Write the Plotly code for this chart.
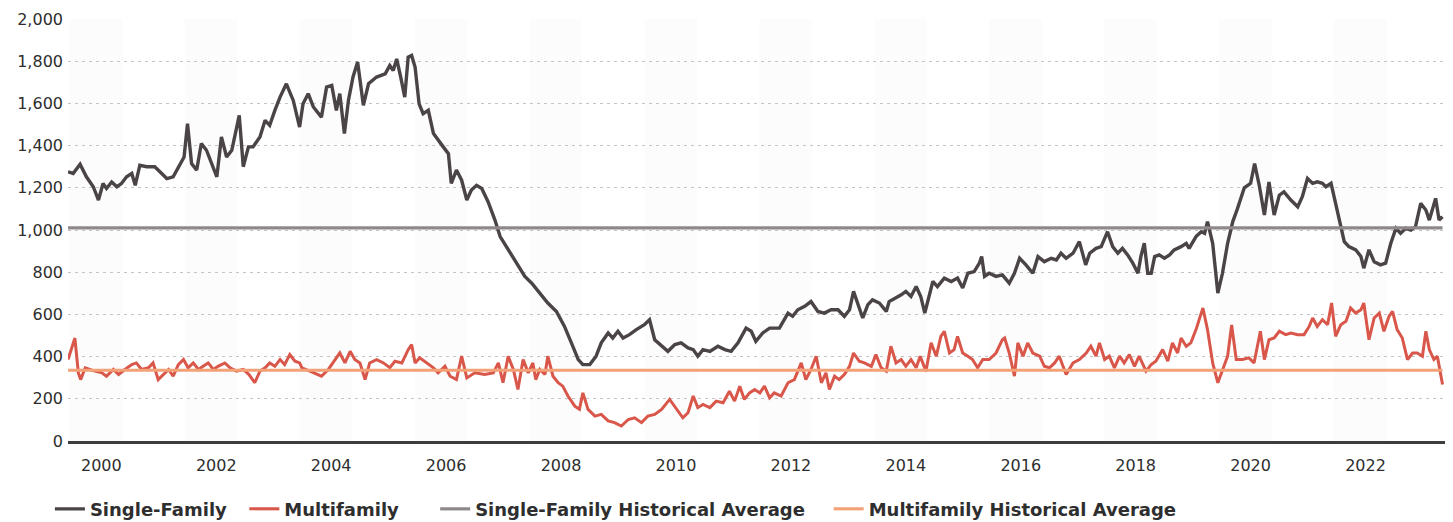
import plotly.graph_objects as go

# ---- Data ----
sf_years = [2000.00, 2000.09, 2000.21, 2000.32, 2000.44, 2000.53, 2000.61, 2000.67, 2000.76, 2000.85, 2000.93,
            2001.02, 2001.11, 2001.17, 2001.25, 2001.37, 2001.51, 2001.63, 2001.72, 2001.83, 2001.95,
            2002.02, 2002.08, 2002.15, 2002.24, 2002.32, 2002.41, 2002.50, 2002.59, 2002.67, 2002.76, 2002.85, 2002.98,
            2003.05, 2003.14, 2003.22, 2003.34, 2003.43, 2003.51, 2003.60, 2003.69, 2003.80, 2003.92,
            2004.03, 2004.09, 2004.18, 2004.27, 2004.41, 2004.50, 2004.59, 2004.67, 2004.73, 2004.81, 2004.88, 2004.96,
            2005.04, 2005.14, 2005.23, 2005.37, 2005.52, 2005.60, 2005.66, 2005.72, 2005.79, 2005.86, 2005.92, 2005.98,
            2006.04, 2006.11, 2006.18, 2006.27, 2006.36, 2006.44, 2006.53, 2006.62, 2006.67, 2006.76, 2006.85, 2006.94,
            2007.02, 2007.11, 2007.20, 2007.31, 2007.43, 2007.52, 2007.66, 2007.81, 2007.95,
            2008.07, 2008.21, 2008.35, 2008.50, 2008.64, 2008.76, 2008.88, 2008.96,
            2009.08, 2009.19, 2009.28, 2009.40, 2009.48, 2009.57, 2009.66, 2009.77, 2009.89,
            2010.03, 2010.12, 2010.21, 2010.33, 2010.44, 2010.56, 2010.67, 2010.79, 2010.88, 2010.96,
            2011.05, 2011.17, 2011.31, 2011.43, 2011.54, 2011.66, 2011.80, 2011.89, 2011.97,
            2012.09, 2012.21, 2012.38, 2012.53, 2012.61, 2012.70, 2012.82, 2012.93,
            2013.05, 2013.16, 2013.28, 2013.40, 2013.51, 2013.60, 2013.67, 2013.74, 2013.83, 2013.92,
            2014.00, 2014.12, 2014.24, 2014.29, 2014.41, 2014.50, 2014.58, 2014.67, 2014.76, 2014.84, 2014.91, 2014.99,
            2015.05, 2015.13, 2015.25, 2015.37, 2015.48, 2015.57, 2015.66, 2015.77, 2015.86, 2015.90, 2015.95,
            2016.03, 2016.15, 2016.26, 2016.38, 2016.47, 2016.56, 2016.67, 2016.79, 2016.88, 2016.99,
            2017.11, 2017.20, 2017.28, 2017.37, 2017.49, 2017.60, 2017.71, 2017.78, 2017.89, 2017.98,
            2018.09, 2018.18, 2018.27, 2018.35, 2018.44, 2018.53, 2018.62, 2018.67, 2018.73, 2018.79, 2018.85, 2018.91, 2018.99,
            2019.08, 2019.17, 2019.25, 2019.37, 2019.46, 2019.51, 2019.63, 2019.72, 2019.78, 2019.83, 2019.92,
            2020.01, 2020.09, 2020.18, 2020.27, 2020.35, 2020.47, 2020.58, 2020.65, 2020.73, 2020.82, 2020.90, 2020.99,
            2021.08, 2021.16, 2021.28, 2021.40, 2021.48, 2021.57, 2021.66, 2021.74, 2021.83, 2021.89, 2021.98,
            2022.06, 2022.15, 2022.21, 2022.29, 2022.41, 2022.50, 2022.55, 2022.64, 2022.73, 2022.84, 2022.93,
            2023.02, 2023.11, 2023.19, 2023.28, 2023.37, 2023.45, 2023.54, 2023.63, 2023.69, 2023.80, 2023.86, 2023.92]
sf_values = [1276, 1268, 1312, 1252, 1205, 1142, 1220, 1197, 1228, 1205, 1220,
             1252, 1268, 1212, 1307, 1300, 1300, 1268, 1244, 1252, 1315,
             1346, 1504, 1315, 1284, 1410, 1378, 1315, 1252, 1441, 1346, 1378, 1543,
             1300, 1394, 1394, 1441, 1520, 1496, 1567, 1630, 1693, 1614,
             1488, 1598, 1646, 1583, 1535, 1677, 1685, 1567, 1646, 1457, 1614, 1725,
             1796, 1591, 1693, 1725, 1740, 1780, 1756, 1811, 1725, 1630, 1819, 1827,
             1772, 1598, 1551, 1567, 1457, 1425, 1394, 1362, 1221, 1284, 1236, 1142,
             1189, 1212, 1197, 1134, 1047, 969, 906, 843, 780,
             748, 701, 654, 614, 543, 465, 386, 362,
             362, 402, 465, 512, 488, 520, 488, 504, 528,
             551, 575, 480, 449, 425, 457, 465, 441, 433, 402,
             433, 425, 449, 433, 425, 465, 535, 520, 472,
             512, 535, 535, 606, 591, 622, 638, 661,
             614, 606, 622, 622, 591, 622, 709, 654, 583, 646,
             669, 654, 614, 661, 677, 693, 709, 685, 732, 685, 606, 685,
             756, 732, 772, 756, 772, 725, 795, 803, 843, 874, 780,
             795, 780, 787, 748, 795, 866, 835, 795, 874, 850,
             866, 858, 890, 866, 890, 945, 835, 890, 913, 921,
             992, 921, 890, 913, 882, 843, 795, 874, 937, 795, 795, 874, 882,
             866, 882, 906, 921, 937, 913, 969, 992, 984, 1040, 937,
             701, 795, 937, 1040, 1100, 1200, 1221, 1315, 1212, 1071, 1228, 1071,
             1165, 1181, 1142, 1110, 1158, 1244, 1221, 1228, 1221, 1205, 1221,
             1126, 1016, 945, 921, 906, 874, 819, 906, 850, 835, 843,
             937, 1008, 984, 1008, 1000, 1016, 1126, 1095, 1047, 1150, 1047, 1063]

mf_years = [2000.00, 2000.12, 2000.18, 2000.22, 2000.30, 2000.38, 2000.47, 2000.59, 2000.67, 2000.79, 2000.88, 2000.99,
            2001.11, 2001.19, 2001.28, 2001.40, 2001.48, 2001.57, 2001.66, 2001.75, 2001.83, 2001.92,
            2002.01, 2002.09, 2002.18, 2002.27, 2002.35, 2002.44, 2002.53, 2002.61, 2002.73, 2002.82, 2002.93,
            2003.05, 2003.15, 2003.25, 2003.34, 2003.43, 2003.51, 2003.60, 2003.69, 2003.77, 2003.86, 2003.95,
            2004.03, 2004.07, 2004.21, 2004.41, 2004.53, 2004.65, 2004.73, 2004.82, 2004.91, 2004.99,
            2005.08, 2005.17, 2005.25, 2005.37, 2005.49, 2005.60, 2005.69, 2005.81, 2005.92, 2005.98,
            2006.04, 2006.12, 2006.24, 2006.36, 2006.44, 2006.56, 2006.65, 2006.76, 2006.85, 2006.94,
            2007.08, 2007.25, 2007.40, 2007.49, 2007.57, 2007.66, 2007.75, 2007.83, 2007.92,
            2008.01, 2008.09, 2008.14, 2008.21, 2008.30, 2008.35, 2008.44, 2008.53, 2008.61, 2008.70, 2008.82, 2008.90, 2008.96,
            2009.05, 2009.17, 2009.28, 2009.40, 2009.51, 2009.63, 2009.75, 2009.86, 2009.98,
            2010.09, 2010.21, 2010.33, 2010.47, 2010.59, 2010.70, 2010.79, 2010.88, 2010.96,
            2011.05, 2011.17, 2011.28, 2011.40, 2011.51, 2011.60, 2011.69, 2011.77, 2011.86, 2011.95,
            2012.04, 2012.12, 2012.21, 2012.29, 2012.41, 2012.53, 2012.64, 2012.76, 2012.84, 2012.93,
            2013.02, 2013.11, 2013.19, 2013.25, 2013.34, 2013.42, 2013.51, 2013.60, 2013.67, 2013.77, 2013.86, 2013.98,
            2014.06, 2014.15, 2014.24, 2014.32, 2014.41, 2014.50, 2014.58, 2014.67, 2014.76, 2014.83, 2014.93,
            2015.02, 2015.11, 2015.19, 2015.25, 2015.34, 2015.42, 2015.48, 2015.57, 2015.66, 2015.74, 2015.83, 2015.92,
            2016.03, 2016.15, 2016.26, 2016.30, 2016.38, 2016.47, 2016.53, 2016.62, 2016.70, 2016.79, 2016.91, 2016.99,
            2017.08, 2017.17, 2017.25, 2017.37, 2017.49, 2017.60, 2017.72, 2017.80, 2017.89, 2017.95,
            2018.04, 2018.12, 2018.21, 2018.30, 2018.38, 2018.47, 2018.56, 2018.64, 2018.76, 2018.85, 2018.93,
            2019.05, 2019.14, 2019.22, 2019.31, 2019.37, 2019.46, 2019.54, 2019.63, 2019.75, 2019.83, 2019.92,
            2020.01, 2020.09, 2020.18, 2020.25, 2020.33, 2020.44, 2020.55, 2020.64, 2020.75, 2020.82, 2020.90, 2020.99,
            2021.08, 2021.19, 2021.28, 2021.40, 2021.51, 2021.60, 2021.66, 2021.74, 2021.83, 2021.92, 2021.99,
            2022.06, 2022.15, 2022.24, 2022.32, 2022.41, 2022.50, 2022.55, 2022.64, 2022.73, 2022.82, 2022.90, 2022.99,
            2023.05, 2023.13, 2023.22, 2023.31, 2023.40, 2023.48, 2023.57, 2023.63, 2023.69, 2023.77, 2023.83, 2023.92]
mf_values = [386, 488, 323, 291, 347, 339, 331, 323, 307, 339, 315, 339,
             362, 370, 339, 347, 370, 291, 315, 339, 307, 362,
             386, 347, 370, 339, 354, 370, 339, 354, 370, 347, 331,
             339, 315, 276, 331, 347, 370, 354, 386, 362, 410, 378,
             370, 347, 331, 307, 339, 386, 417, 370, 425, 386,
             370, 291, 370, 386, 370, 347, 378, 370, 433, 457,
             370, 394, 370, 347, 323, 354, 307, 291, 402, 299,
             323, 315, 323, 370, 276, 402, 339, 244, 386,
             323, 370, 291, 339, 315, 402, 307, 276, 260, 213, 165, 150, 228,
             150, 118, 126, 95, 87, 71, 102, 110, 87,
             118, 126, 150, 197, 150, 110, 134, 213, 158,
             173, 158, 189, 181, 236, 189, 260, 197, 228, 244,
             228, 260, 205, 228, 213, 276, 291, 370, 291, 339,
             402, 276, 323, 244, 307, 291, 315, 354, 417, 378, 370, 354,
             410, 347, 331, 449, 370, 386, 354, 386, 347, 402, 331,
             465, 402, 496, 520, 417, 433, 496, 417, 402, 386, 347, 386,
             386, 417, 480, 488, 417, 307, 465, 402, 465, 417, 402, 354,
             347, 370, 402, 315, 370, 386, 417, 449, 402, 465,
             386, 402, 347, 402, 370, 410, 354, 402, 331, 362, 378,
             433, 378, 465, 417, 488, 449, 465, 528, 630, 528, 370,
             276, 339, 402, 550, 386, 386, 394, 370, 520, 386, 480, 488,
             520, 504, 512, 504, 504, 543, 583, 543, 575, 551, 654,
             496, 551, 567, 630, 606, 622, 654, 480, 583, 606, 520, 591,
             614, 528, 488, 386, 417, 417, 402, 520, 433, 386, 402, 268]

sf_avg = 1010
mf_avg = 335
tick_years = [2000, 2002, 2004, 2006, 2008, 2010, 2012, 2014, 2016, 2018, 2020, 2022]
y_ticks = [0, 200, 400, 600, 800, 1000, 1200, 1400, 1600, 1800, 2000]
series_names = ["Single-Family", "Multifamily",
                "Single-Family Historical Average", "Multifamily Historical Average"]

# ---- Styling ----
C_SF = "#4a4447"
C_MF = "#d9574a"
C_SF_AVG = "#8f888b"
C_MF_AVG = "#f3a176"
FONT = "DejaVu Sans"
TXT = "#2e2e2e"
NB = "\u00a0"   # non-breaking spaces widen the gaps between legend items
pads = [NB * 2, NB * 5, NB * 3, ""]

x_start, x_end = sf_years[0], sf_years[-1]

fig = go.Figure()
fig.add_trace(go.Scatter(x=sf_years, y=sf_values, mode="lines", name=series_names[0] + pads[0],
                         line=dict(color=C_SF, width=3.4)))
fig.add_trace(go.Scatter(x=mf_years, y=mf_values, mode="lines", name=series_names[1] + pads[1],
                         line=dict(color=C_MF, width=3)))
fig.add_trace(go.Scatter(x=[x_start, x_end], y=[sf_avg, sf_avg], mode="lines",
                         name=series_names[2] + pads[2],
                         line=dict(color=C_SF_AVG, width=3.2)))
fig.add_trace(go.Scatter(x=[x_start, x_end], y=[mf_avg, mf_avg], mode="lines",
                         name=series_names[3] + pads[3],
                         line=dict(color=C_MF_AVG, width=3)))

# very faint alternating year bands
shapes = []
for yr in tick_years:
    shapes.append(dict(type="rect", xref="x", yref="paper", x0=yr + 0.03, x1=yr + 0.95, y0=0, y1=1,
                       fillcolor="rgba(0,0,0,0.012)", line=dict(width=0), layer="below"))

# the page body has an 8px default margin, so the figure is sized to fit the window
fig.update_layout(
    width=1445, height=514,
    margin=dict(l=60, r=3, t=11, b=81, autoexpand=False),
    paper_bgcolor="white", plot_bgcolor="white",
    font=dict(family=FONT, size=16, color=TXT),
    showlegend=True,
    legend=dict(orientation="h", xref="container", x=0.029, xanchor="left",
                yref="container", y=0.025, yanchor="middle",
                font=dict(family=FONT, size=18, color=TXT, weight="bold"),
                itemwidth=30, tracegroupgap=0, bgcolor="rgba(0,0,0,0)"),
    shapes=shapes,
    hovermode=False,
)
fig.update_xaxes(
    range=[2000.0, 2024.05],
    tickmode="array",
    tickvals=[y + 0.58 for y in tick_years],
    ticktext=[str(y) for y in tick_years],
    showgrid=False, zeroline=False,
    showline=True, linecolor="#3d3d3d", linewidth=3,
    ticks="", ticklabelstandoff=8, automargin=False,
    tickfont=dict(family=FONT, size=16, color=TXT),
)
fig.update_yaxes(
    range=[0, 2000],
    tickmode="array", tickvals=y_ticks,
    tickformat=",",
    showgrid=True, gridcolor="#c4c4c4", gridwidth=1, griddash="3px,4px",
    zeroline=False, showline=False, ticks="",
    ticklabelstandoff=4, automargin=False,
    tickfont=dict(family=FONT, size=16, color=TXT),
)

fig.write_html("out.html")
